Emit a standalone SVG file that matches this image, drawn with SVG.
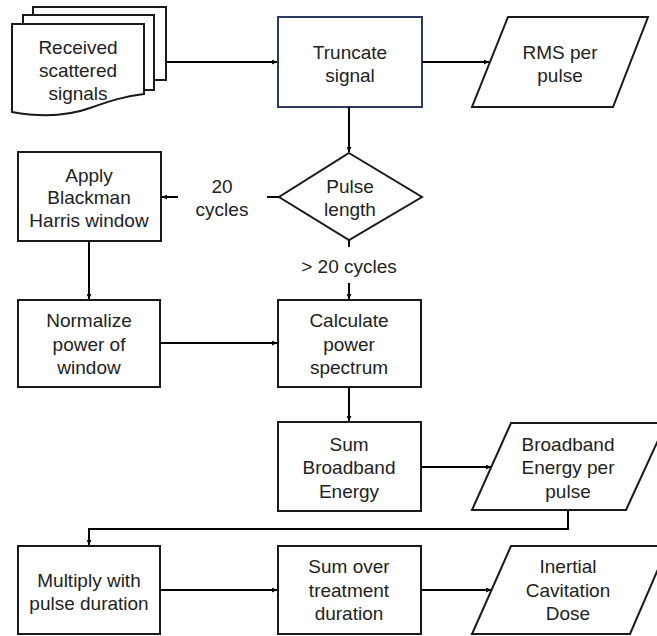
<svg xmlns="http://www.w3.org/2000/svg" width="657" height="636" viewBox="0 0 657 636">
<defs>
<marker id="ah" viewBox="0 0 10 10" refX="10" refY="5" markerWidth="5" markerHeight="5" orient="auto" markerUnits="userSpaceOnUse">
<path d="M0,0 L10,5 L0,10 z" fill="#000"/>
</marker>
<style>
.s{fill:#fff;stroke:#1a1a1a;stroke-width:2}
.t{font-family:"Liberation Sans",Arial,sans-serif;font-size:19px;fill:#222;text-anchor:middle}
.c{fill:none;stroke:#000;stroke-width:2}
</style>
</defs>
<rect width="657" height="636" fill="#fff"/>
<g id="received">
<rect class="s" x="33" y="7" width="133" height="73"/>
<rect class="s" x="23" y="15" width="131" height="75"/>
<path class="s" d="M12,24 H144 V94 C125,96 110,101 90,108 C65,117 40,117 12,112 Z"/>
<text class="t" x="78" y="54">Received</text>
<text class="t" x="78" y="77">scattered</text>
<text class="t" x="78" y="100">signals</text>
</g>
<g id="truncate">
<rect x="278" y="17" width="144" height="90" fill="#fff" stroke="#2b3a63" stroke-width="2"/>
<text class="t" x="350" y="59">Truncate</text>
<text class="t" x="350" y="82">signal</text>
</g>
<g id="rms">
<path class="s" d="M508,17 H648 L613,107 H472 Z"/>
<text class="t" x="560" y="59">RMS per</text>
<text class="t" x="560" y="82">pulse</text>
</g>
<g id="pulse">
<path class="s" d="M349,153 L422,197 L349,240 L279,197 Z"/>
<text class="t" x="350" y="193">Pulse</text>
<text class="t" x="350" y="216">length</text>
</g>
<g id="apply">
<rect class="s" x="18" y="152" width="143" height="89"/>
<text class="t" x="89" y="182">Apply</text>
<text class="t" x="89" y="204">Blackman</text>
<text class="t" x="89" y="227">Harris window</text>
</g>
<g id="normalize">
<rect class="s" x="18" y="300" width="142" height="87"/>
<text class="t" x="89" y="327">Normalize</text>
<text class="t" x="89" y="351">power of</text>
<text class="t" x="89" y="374">window</text>
</g>
<g id="calculate">
<rect class="s" x="278" y="300" width="143" height="87"/>
<text class="t" x="349" y="327">Calculate</text>
<text class="t" x="349" y="351">power</text>
<text class="t" x="349" y="374">spectrum</text>
</g>
<g id="sumbb">
<rect class="s" x="278" y="422" width="143" height="89"/>
<text class="t" x="349" y="451">Sum</text>
<text class="t" x="349" y="474">Broadband</text>
<text class="t" x="349" y="498">Energy</text>
</g>
<g id="bbenergy">
<path class="s" d="M511,423 H666 L626,510 H472 Z"/>
<text class="t" x="568" y="451">Broadband</text>
<text class="t" x="568" y="474">Energy per</text>
<text class="t" x="568" y="498">pulse</text>
</g>
<g id="multiply">
<rect class="s" x="18" y="546" width="142" height="88"/>
<text class="t" x="89" y="587">Multiply with</text>
<text class="t" x="89" y="610">pulse duration</text>
</g>
<g id="sumover">
<rect class="s" x="278" y="546" width="143" height="88"/>
<text class="t" x="349" y="573">Sum over</text>
<text class="t" x="349" y="597">treatment</text>
<text class="t" x="349" y="620">duration</text>
</g>
<g id="dose">
<path class="s" d="M511,546 H668 L630,634 H472 Z"/>
<text class="t" x="568" y="573">Inertial</text>
<text class="t" x="568" y="597">Cavitation</text>
<text class="t" x="568" y="620">Dose</text>
</g>
<g id="connectors">
<path class="c" d="M166,62 H277" marker-end="url(#ah)"/>
<path class="c" d="M422,62 H489" marker-end="url(#ah)"/>
<path class="c" d="M349,107 V152" marker-end="url(#ah)"/>
<path class="c" d="M279,197 H267"/>
<path class="c" d="M178,197 H162" marker-end="url(#ah)"/>
<text class="t" x="222" y="193">20</text>
<text class="t" x="222" y="216">cycles</text>
<path class="c" d="M349,240 V247"/>
<text class="t" x="349" y="273">&gt; 20 cycles</text>
<path class="c" d="M349,283 V299" marker-end="url(#ah)"/>
<path class="c" d="M89,241 V299" marker-end="url(#ah)"/>
<path class="c" d="M160,343 H277" marker-end="url(#ah)"/>
<path class="c" d="M349,387 V421" marker-end="url(#ah)"/>
<path class="c" d="M421,467 H491" marker-end="url(#ah)"/>
<path class="c" d="M568,510 V529 H89 V545" marker-end="url(#ah)"/>
<path class="c" d="M160,590 H277" marker-end="url(#ah)"/>
<path class="c" d="M421,590 H491" marker-end="url(#ah)"/>
</g>
</svg>
